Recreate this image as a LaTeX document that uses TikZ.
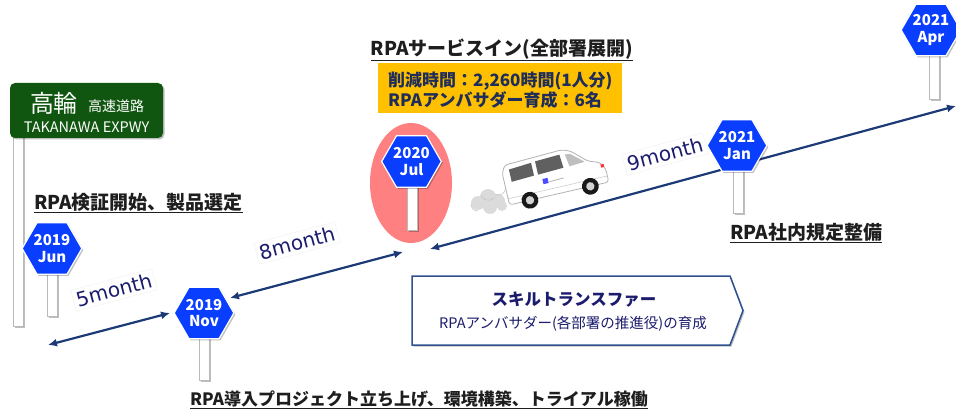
\documentclass[tikz,border=0pt]{standalone}
\usepackage{fontspec}
\setmainfont{Noto Sans CJK JP}
\newfontfamily\latinsans{DejaVu Sans}
\usetikzlibrary{shapes.geometric,arrows.meta,shadows}
\definecolor{signblue}{RGB}{10,62,255}
\definecolor{signgreen}{RGB}{16,86,16}
\definecolor{arrownavy}{RGB}{28,58,118}
\definecolor{monthnavy}{RGB}{28,28,110}
\definecolor{boxorange}{RGB}{255,192,0}
\definecolor{boxtext}{RGB}{31,45,90}
\definecolor{highlight}{RGB}{255,128,128}
\definecolor{framenavy}{RGB}{47,82,143}
\definecolor{labeltext}{RGB}{30,30,30}
\begin{document}
\begin{tikzpicture}[x=1pt,y=-1pt,
  softshadow/.style={drop shadow={shadow xshift=1.5pt,shadow yshift=-1.5pt,opacity=0.25,fill=black}},
  pole/.style={rectangle,fill=white,draw=gray!55,line width=0.8pt,minimum width=10pt,
    inner sep=0pt,anchor=north,softshadow},
  hexsign/.style={regular polygon,regular polygon sides=6,minimum size=58pt,inner sep=0pt,
    fill=signblue,draw=white,line width=1.2pt,text=white,align=center,
    font=\bfseries\fontsize{15}{16.5}\selectfont,softshadow},
  span/.style={{Latex[length=9pt,width=8pt]}-{Latex[length=9pt,width=8pt]},
    draw=arrownavy,line width=2.2pt},
  monthlabel/.style={rotate=15,fill=white,draw=gray!12,text=monthnavy,inner sep=3pt,
    font=\latinsans\fontsize{20}{21}\selectfont},
  milestone/.style={text=labeltext,inner sep=0pt,font=\bfseries\fontsize{19}{22}\selectfont},
  signtext/.style={text=white,inner sep=0pt}
]
\useasboundingbox (0,0) rectangle (956,414);

% expressway sign and its post
\node[pole,minimum height=190pt] (exppole) at (18,136) {};
\node[rectangle,rounded corners=5pt,fill=signgreen,minimum width=153pt,minimum height=55pt,
  softshadow] (expsign) at (86.5,110.5) {};
\node[signtext,font=\fontsize{24}{26}\selectfont] (expname) at (54,103) {高輪};
\node[signtext,font=\fontsize{14}{16}\selectfont] (expkind) at (116,106) {高速道路};
\node[signtext,font=\fontsize{14.5}{16}\selectfont] (expromaji) at (86.5,127) {TAKANAWA EXPWY};

% highlight behind the service-in milestone
\node[ellipse,fill=highlight,minimum width=82pt,minimum height=120pt,inner sep=0pt] (hl) at (411,183) {};

% sign posts
\node[pole,minimum height=44pt] (junpole) at (52,272) {};
\node[pole,minimum height=43pt] (novpole) at (204.5,337) {};
\node[pole,minimum height=44pt] (julpole) at (412.5,186) {};
\node[pole,minimum height=43pt] (janpole) at (738.5,170) {};
\node[pole,minimum height=45pt] (aprpole) at (934,54) {};

% time spans
\coordinate (s1a) at (48,345);
\coordinate (s1b) at (170,313);
\coordinate (s2a) at (230,298);
\coordinate (s2b) at (403,252);
\coordinate (s3a) at (430,249);
\coordinate (s3b) at (956,106);
\draw[span] (s1a) -- (s1b);
\draw[span] (s2a) -- (s2b);
\draw[span] (s3a) -- (s3b);

% milestone signs
\node[hexsign] (jun) at (52,248.5) {2019\\Jun};
\node[hexsign] (nov) at (204,313) {2019\\Nov};
\node[hexsign] (jul) at (411.5,161.5) {2020\\Jul};
\node[hexsign] (jan) at (737,145.5) {2021\\Jan};
\node[hexsign] (apr) at (931,30) {2021\\Apr};

% durations
\node[monthlabel] (m5) at (114,290) {5month};
\node[monthlabel] (m8) at (297,243) {8month};
\node[monthlabel] (m9) at (665,154) {9month};

% milestone captions
\node[milestone] (cap1) at (138.5,203) {\underline{RPA検証開始、製品選定}};
\node[milestone] (cap2) at (502,50) {\underline{RPAサービスイン(全部署展開)}};
\node[milestone] (cap3) at (806,233) {\underline{RPA社内規定整備}};
\node[milestone,font=\bfseries\fontsize{17}{20}\selectfont] (cap4) at (419,400)
  {\underline{RPA導入プロジェクト立ち上げ、環境構築、トライアル稼働}};

% results box
\node[rectangle,fill=boxorange,minimum width=244pt,minimum height=50pt,inner sep=0pt] (result) at (500,88) {};
\node[anchor=west,inner sep=0pt,text=boxtext,align=left,font=\bfseries\fontsize{17}{20}\selectfont]
  (resulttext) at (388,90) {削減時間：2,260時間(1人分)\\RPAアンバサダー育成：6名};

% skill transfer banner
\draw[fill=white,draw=framenavy,line width=1.5pt,softshadow]
  (412,276) -- (730,276) -- (743,310.5) -- (730,345) -- (412,345) -- cycle;
\node[text=monthnavy,inner sep=0pt,font=\bfseries\fontsize{16.5}{18}\selectfont] (skill) at (574,300) {スキルトランスファー};
\node[text=monthnavy,inner sep=0pt,font=\fontsize{14.5}{16}\selectfont] (skillsub) at (573,324) {RPAアンバサダー(各部署の推進役)の育成};

% exhaust cloud
\begin{scope}[fill=gray!28,draw=gray!55,line width=0.5pt]
  \fill (478,203) circle (7) (488,197) circle (8) (498,201) circle (7) (490,207) circle (7) (502,206) circle (5);
\end{scope}
\begin{scope}[draw=gray!45,line width=0.6pt]
  \draw (471,204) arc (180:90:7) (481,195) arc (160:40:8) (495,194) arc (120:0:7);
\end{scope}

% van climbing the slope
\begin{scope}[shift={(510,207)},rotate=13,scale=1.05]
  \draw[fill=white,draw=gray!60,line width=0.8pt,rounded corners=3pt]
    (0,-2) -- (0,-33) -- (4,-40) -- (60,-42) -- (68,-39) -- (82,-26) -- (93,-22) -- (97,-15)
    -- (97,-2) -- cycle;
  \fill[gray!75!black] (7,-35) -- (29,-36.5) -- (29,-24) -- (7,-23) -- cycle;
  \fill[gray!75!black] (33,-37) -- (57,-38) -- (58,-25) -- (33,-24) -- cycle;
  \fill[gray!50] (62,-37) -- (67,-36.5) -- (79,-26) -- (64,-25) -- cycle;
  \fill[blue!70] (36,-19) rectangle (41,-14);
  \draw[gray!60,line width=0.8pt] (42,-15) -- (56,-15.5);
  \fill[red!80] (93,-20) rectangle (96,-17);
  \draw[gray!45,line width=0.5pt] (0,-8) -- (97,-8);
  \foreach \wx in {20,79}{
    \fill[gray!20!black] (\wx,-2) circle (8);
    \fill[gray!35] (\wx,-2) circle (4);
  }
\end{scope}
\end{tikzpicture}
\end{document}
